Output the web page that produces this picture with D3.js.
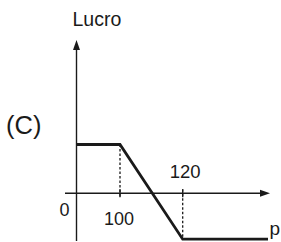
<!doctype html>
<html lang="pt">
<head>
<meta charset="utf-8">
<title>Lucro (C)</title>
<script src="https://d3js.org/d3.v7.min.js"></script>
<style>
  body { margin: 0; background: #fff; }
  text { font-family: "Liberation Sans", Arial, sans-serif; fill: #1a1a1a; }
</style>
</head>
<body>
<div id="chart"></div>
<script>
// schematic profit curve: p -> lucro
const priceP = [0, 100, 120, 150];
const lucroV = [1, 1, -0.94, -0.94];
const tickP = [100, 120];
const tickLabels = ["100", "120"];

const width = 281, height = 242;

const svg = d3.select("#chart").append("svg")
    .attr("width", width)
    .attr("height", height);

// not to scale in the original, so piecewise x scale
const x = d3.scaleLinear()
    .domain([0, 100, 120, 150])
    .range([76.5, 120, 182.7, 268]);

const y = d3.scaleLinear()
    .domain([0, 1])
    .range([193.3, 144.5]);

const ink = "#1a1a1a";

// axes
svg.append("line")
    .attr("x1", 65).attr("x2", 262)
    .attr("y1", y(0)).attr("y2", y(0))
    .attr("stroke", ink).attr("stroke-width", 1.4);
svg.append("path")
    .attr("d", `M270,${y(0)} L260,${y(0) - 3.5} L260,${y(0) + 3.5} Z`)
    .attr("fill", ink);

svg.append("line")
    .attr("x1", x(0)).attr("x2", x(0))
    .attr("y1", 48).attr("y2", 241)
    .attr("stroke", ink).attr("stroke-width", 1.4);
svg.append("path")
    .attr("d", `M${x(0)},40 L${x(0) - 3.5},50 L${x(0) + 3.5},50 Z`)
    .attr("fill", ink);

// dashed guides
svg.append("line")
    .attr("x1", x(100)).attr("x2", x(100))
    .attr("y1", y(1)).attr("y2", y(0) + 5)
    .attr("stroke", ink).attr("stroke-width", 1.3)
    .attr("stroke-dasharray", "2.5,2");
svg.append("line")
    .attr("x1", x(120)).attr("x2", x(120))
    .attr("y1", y(0) - 4).attr("y2", y(-0.94))
    .attr("stroke", ink).attr("stroke-width", 1.3)
    .attr("stroke-dasharray", "2.5,2");

// tick marks at the axis
svg.selectAll("line.tick")
    .data(tickP)
    .enter().append("line")
    .attr("class", "tick")
    .attr("x1", d => x(d)).attr("x2", d => x(d))
    .attr("y1", y(0) - 4).attr("y2", y(0) + 4)
    .attr("stroke", ink).attr("stroke-width", 1.3);

// the curve
const pts = priceP.map((p, i) => [x(p), y(lucroV[i])]);
svg.append("path")
    .attr("d", d3.line()(pts))
    .attr("fill", "none")
    .attr("stroke", ink)
    .attr("stroke-width", 2.8)
    .attr("stroke-linejoin", "miter");

// labels
svg.append("text").attr("x", 72.5).attr("y", 25.5)
    .attr("font-size", 19.5).text("Lucro");
svg.append("text").attr("x", 6).attr("y", 134)
    .attr("font-size", 25.5).text("(C)");
svg.append("text").attr("x", 59.5).attr("y", 216)
    .attr("font-size", 18).text("0");
svg.append("text").attr("x", 269.5).attr("y", 235)
    .attr("font-size", 19).text("p");

svg.append("text").attr("x", x(100) - 1).attr("y", 225)
    .attr("font-size", 18).attr("text-anchor", "middle")
    .text(tickLabels[0]);
svg.append("text").attr("x", x(120) + 2.5).attr("y", 178)
    .attr("font-size", 18.5).attr("text-anchor", "middle")
    .text(tickLabels[1]);
</script>
</body>
</html>
